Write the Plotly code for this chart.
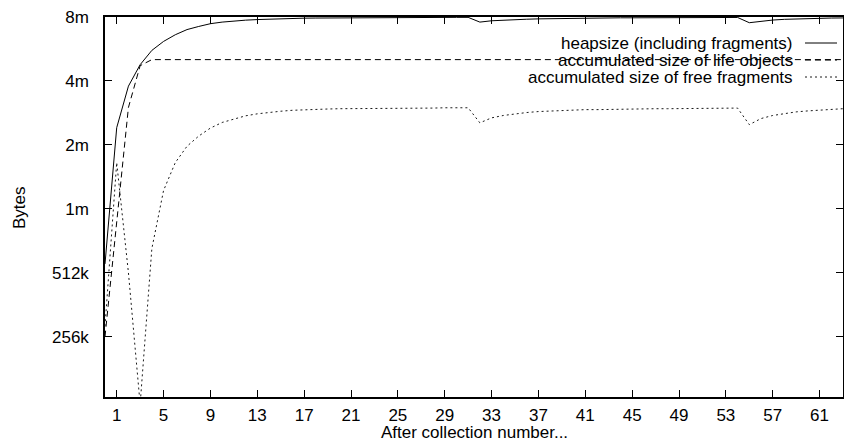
import math
import plotly.graph_objects as go

MB = 1048576

collections = list(range(0, 64))

heap_mb = [0.55, 2.41, 3.78, 4.77, 5.57, 6.14, 6.6, 6.98, 7.22, 7.44,
           7.57, 7.67, 7.73, 7.78, 7.82, 7.85, 7.88, 7.90, 7.91, 7.92,
           7.93, 7.93, 7.94, 7.94, 7.95, 7.95, 7.95, 7.96, 7.96, 7.96,
           7.97, 7.97,
           7.57, 7.68, 7.74, 7.78, 7.81, 7.84, 7.86, 7.88, 7.90,
           7.91, 7.92, 7.92, 7.93, 7.93, 7.94, 7.94, 7.95, 7.95, 7.95,
           7.96, 7.96, 7.96, 7.96,
           7.52, 7.66, 7.74, 7.80, 7.84, 7.87, 7.89, 7.91, 7.92]

life_mb = [0.25, 0.85, 3.0, 4.72] + [5.04] * 60

free_mb = [0.28, 1.65, 0.5, 0.12, 0.65, 1.22, 1.65, 1.97, 2.2, 2.4,
           2.55, 2.65, 2.74, 2.8, 2.85, 2.88, 2.91, 2.93, 2.94, 2.95,
           2.96, 2.96, 2.97, 2.97, 2.97, 2.98, 2.98, 2.98, 2.98, 2.99,
           2.99, 2.99,
           2.54, 2.68, 2.75, 2.8, 2.84, 2.87, 2.89, 2.9, 2.92,
           2.93, 2.93, 2.94, 2.94, 2.95, 2.95, 2.96, 2.96, 2.96, 2.97,
           2.97, 2.97, 2.98, 2.98,
           2.49, 2.66, 2.75, 2.81, 2.86, 2.89, 2.92, 2.94, 2.96]

series_names = ["heapsize (including fragments)",
                "accumulated size of life objects",
                "accumulated size of free fragments"]

y_tick_labels = ["256k", "512k", "1m", "2m", "4m", "8m"]
y_tick_values = [262144, 524288, 1048576, 2097152, 4194304, 8388608]
x_tick_values = list(range(1, 62, 4))

FONT = "Liberation Sans, Arial, Helvetica, sans-serif"
dashes = ["solid", "6px,4px", "2px,3px"]
colors = ["#000000", "#000000", "#1a1a1a"]

fig = go.Figure()
for name, vals, dash, col in zip(series_names, [heap_mb, life_mb, free_mb], dashes, colors):
    fig.add_trace(go.Scatter(
        x=collections, y=[v * MB for v in vals], mode="lines", name=name,
        line=dict(color=col, width=1, dash=dash), showlegend=False,
    ))

y_bottom = math.log10(262144 * 2 ** (-60.4 / 64))
y_top = math.log10(8388608)

L, R, T, B = 105, 1, 17, 44
W, H = 844, 441
plot_w = W - L - R
plot_h = H - T - B

fig.update_layout(
    width=W, height=H,
    margin=dict(l=L, r=R, t=T, b=B, autoexpand=False),
    paper_bgcolor="white", plot_bgcolor="white",
    font=dict(family=FONT, size=17, color="black"),
    xaxis=dict(range=[0, 63], tickvals=x_tick_values, ticks="inside", ticklen=7,
               tickcolor="black", tickwidth=1, showline=True, linecolor="black",
               linewidth=1.5, mirror="allticks", showgrid=False, zeroline=False,
               automargin=False, ticklabelstandoff=2),
    yaxis=dict(type="log", range=[y_bottom, y_top], tickvals=y_tick_values,
               ticktext=y_tick_labels, ticks="inside", ticklen=7, tickcolor="black",
               tickwidth=1, showline=True, linecolor="black", linewidth=1.5,
               mirror="allticks", showgrid=False, zeroline=False,
               automargin=False, ticklabelstandoff=11),
)

# axis titles
fig.add_annotation(text="Bytes", xref="paper", yref="paper", x=(19 - L) / plot_w,
                   y=(H - B - 208) / plot_h, textangle=-90, showarrow=False,
                   xanchor="center", yanchor="middle",
                   font=dict(size=17, family=FONT, color="black"))
fig.add_annotation(text="After collection number...", xref="paper", yref="paper",
                   x=0.5, y=(H - B - 432) / plot_h, showarrow=False,
                   xanchor="center", yanchor="middle",
                   font=dict(size=17, family=FONT, color="black"))

# manual gnuplot-style legend (text right, sample line to the right)
rows_px = [43, 60, 77]
for name, dash, col, ypx in zip(series_names, dashes, colors, rows_px):
    yp = (H - B - ypx) / plot_h
    fig.add_annotation(x=(795 - L) / plot_w, y=yp, xref="paper", yref="paper",
                       text=name, showarrow=False, xanchor="right", yanchor="middle",
                       font=dict(size=17, family=FONT, color="black"))
    fig.add_shape(type="line", xref="paper", yref="paper",
                  x0=(805 - L) / plot_w, x1=(837 - L) / plot_w, y0=yp, y1=yp,
                  line=dict(color=col, width=1, dash=dash))

fig.write_html("out.html", config={"displayModeBar": False},
               post_script="document.body.style.margin='0';document.body.style.overflow='hidden';")
